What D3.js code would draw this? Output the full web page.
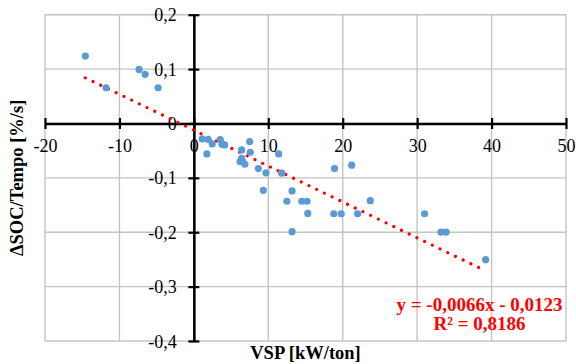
<!DOCTYPE html>
<html>
<head>
<meta charset="utf-8">
<script src="https://cdn.jsdelivr.net/npm/d3@7"></script>
<style>
  html, body { margin: 0; padding: 0; background: #fff; }
  svg { display: block; }
  svg text { font-family: "Liberation Serif", "Times New Roman", "DejaVu Serif", serif; }
</style>
</head>
<body>
<svg id="chart" width="576" height="364"></svg>
<script>
// ---- data ----
const vsp = [
  -14.58, -11.8, -7.36, -6.55, -4.8,
  1.12, 1.93, 2.47, 1.75, 3.54, 3.77, 4.13,
  7.5, 6.42, 7.58, 6.2, 6.55, 6.86, 6.42,
  8.66, 9.69, 9.33, 11.4, 11.8, 13.2, 12.5, 14.5, 15.2, 15.3, 13.2,
  18.9, 21.2, 18.8, 19.8, 22.0, 23.7,
  31.0, 33.2, 33.9, 39.2
];
const dsoc = [
  0.124, 0.0657, 0.0994, 0.0903, 0.0657,
  -0.0284, -0.0297, -0.0376, -0.056, -0.0297, -0.038, -0.0394,
  -0.0333, -0.0486, -0.0529, -0.070, -0.070, -0.075, -0.064,
  -0.083, -0.0908, -0.123, -0.056, -0.0914, -0.124, -0.143, -0.143, -0.143, -0.1655, -0.199,
  -0.083, -0.0767, -0.166, -0.166, -0.166, -0.142,
  -0.166, -0.1997, -0.1997, -0.2505
];
const xTicks = [-20, -10, 0, 10, 20, 30, 40, 50];
const yTicks = [-0.4, -0.3, -0.2, -0.1, 0, 0.1, 0.2];
const xTickLabels = ["-20", "-10", "0", "10", "20", "30", "40", "50"];
const yTickLabels = ["-0,4", "-0,3", "-0,2", "-0,1", "0", "0,1", "0,2"];
const slope = -0.0066, intercept = -0.0123;
const eqLines = ["y = -0,0066x - 0,0123", "R\u00B2 = 0,8186"];
const xTitle = "VSP [kW/ton]";
const yTitle = "\u0394SOC/Tempo [%/s]";

// ---- layout ----
const svg = d3.select("#chart");
const x = d3.scaleLinear().domain([-20, 50]).range([45, 566]);
const y = d3.scaleLinear().domain([-0.4, 0.2]).range([341, 14.7]);
const grid = "#c4c4c4";

// gridlines
svg.append("g").selectAll("line").data(xTicks).join("line")
  .attr("x1", d => x(d)).attr("x2", d => x(d))
  .attr("y1", y(0.2)).attr("y2", y(-0.4))
  .attr("stroke", grid).attr("stroke-width", 1.4);
svg.append("g").selectAll("line").data(yTicks).join("line")
  .attr("x1", x(-20)).attr("x2", x(50))
  .attr("y1", d => y(d)).attr("y2", d => y(d))
  .attr("stroke", grid).attr("stroke-width", 1.4);

// x axis through y=0
const xAxis = svg.append("g").attr("transform", `translate(0,${y(0)})`)
  .call(d3.axisBottom(x).tickValues(xTicks).tickSize(0)
    .tickFormat((d, i) => xTickLabels[i]));
xAxis.attr("font-family", null).attr("font-size", null);
xAxis.select(".domain").attr("stroke", "#000").attr("stroke-width", 2.6);
xAxis.selectAll(".tick line").remove();
xAxis.selectAll(".tick").append("line")
  .attr("y1", -5.5).attr("y2", 5.5).attr("stroke", "#000").attr("stroke-width", 2.2);
xAxis.selectAll(".tick text")
  .attr("y", 28.5).attr("dy", 0)
  .style("font-size", "18px").attr("fill", "#000");

// y axis through x=0
const yAxis = svg.append("g").attr("transform", `translate(${x(0)},0)`)
  .call(d3.axisLeft(y).tickValues(yTicks).tickSize(0)
    .tickFormat((d, i) => yTickLabels[i]));
yAxis.attr("font-family", null).attr("font-size", null);
yAxis.select(".domain").attr("stroke", "#000").attr("stroke-width", 2.6);
yAxis.selectAll(".tick line").remove();
yAxis.selectAll(".tick").append("line")
  .attr("x1", -5.5).attr("x2", 5.5).attr("stroke", "#000").attr("stroke-width", 2.2);
yAxis.selectAll(".tick text")
  .attr("x", -17).attr("dy", 0).attr("y", 6)
  .style("font-size", "18px").attr("fill", "#000");

// trendline (dotted)
const [xmin, xmax] = d3.extent(vsp);
svg.append("line")
  .attr("x1", x(xmin)).attr("y1", y(slope * xmin + intercept))
  .attr("x2", x(xmax)).attr("y2", y(slope * xmax + intercept))
  .attr("stroke", "#ff0000").attr("stroke-width", 3.2)
  .attr("stroke-linecap", "round").attr("stroke-dasharray", "0.01 8.55");

// points
svg.append("g").selectAll("circle").data(vsp).join("circle")
  .attr("cx", d => x(d)).attr("cy", (d, i) => y(dsoc[i]))
  .attr("r", 3.6).attr("fill", "#5b9bd5");

// equation
svg.append("g").selectAll("text").data(eqLines).join("text")
  .attr("x", 479.5).attr("y", (d, i) => 310.5 + i * 19)
  .attr("text-anchor", "middle")
  .style("font-size", "19px").style("font-weight", "bold")
  .attr("fill", "#ff0000").text(d => d);

// axis titles
svg.append("text")
  .attr("x", (x(-20) + x(50)) / 2).attr("y", 359)
  .attr("text-anchor", "middle")
  .style("font-size", "18.5px").style("font-weight", "bold")
  .text(xTitle);
svg.append("text")
  .attr("transform", `translate(23,${(y(0.2) + y(-0.4)) / 2}) rotate(-90)`)
  .attr("text-anchor", "middle")
  .style("font-size", "18.5px").style("font-weight", "bold")
  .text(yTitle);
</script>
</body>
</html>
